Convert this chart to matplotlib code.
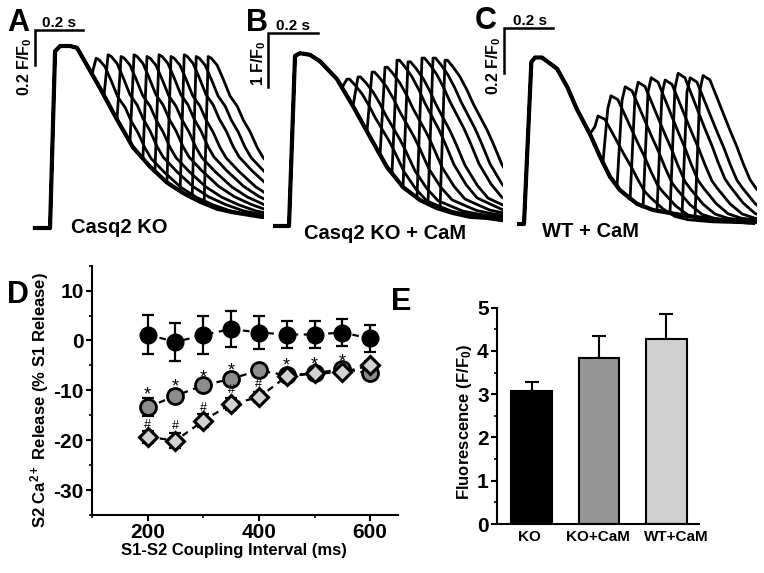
import matplotlib
matplotlib.use("Agg")
import matplotlib.pyplot as plt
from matplotlib.ticker import MultipleLocator

plt.rcParams['font.family'] = ['Liberation Sans', 'DejaVu Sans']
plt.rcParams['font.weight'] = 'bold'
plt.rcParams['axes.unicode_minus'] = False
plt.rcParams['mathtext.fontset'] = 'custom'
plt.rcParams['mathtext.rm'] = 'Liberation Sans:bold'
plt.rcParams['mathtext.bf'] = 'Liberation Sans:bold'
plt.rcParams['mathtext.it'] = 'Liberation Sans:bold:italic'

# ---- top row: Ca transients, time in ms from the S1 upstroke, amplitude in F/F0 above baseline
# A  Casq2 KO
a_s1_t = [-67, -4, 17, 38, 79, 108, 150, 204, 275, 342, 413, 483, 550, 621, 692, 758, 871, 900]
a_s1_f = [0, 0, 1.01, 1.04, 1.04, 1.03, 0.93, 0.80, 0.62, 0.46, 0.35, 0.26, 0.20, 0.15, 0.11, 0.09, 0.065, 0.06]
a_s2_onset = [171, 221, 275, 329, 383, 433, 483, 538, 588, 638]
a_s2_start = [0.88, 0.76, 0.62, 0.49, 0.40, 0.32, 0.26, 0.21, 0.17, 0.14]
a_s2_peak = [0.97, 0.99, 0.98, 0.99, 0.98, 0.99, 0.98, 0.99, 0.98, 0.98]
a_shape_t = [17, 30, 54, 79, 108, 138, 163, 192, 221, 246, 300, 370, 436, 507, 578, 645, 757]
a_shape_f = [1.0, 0.99, 0.95, 0.87, 0.77, 0.71, 0.63, 0.56, 0.47, 0.41, 0.33, 0.24, 0.18, 0.135, 0.10, 0.08, 0.06]

# B  Casq2 KO + CaM
b_s1_t = [-60, -4, 20, 40, 80, 120, 188, 252, 320, 388, 452, 520, 588, 652, 720, 788, 848]
b_s1_f = [0, 0, 3.15, 3.2, 3.17, 3.05, 2.72, 2.22, 1.65, 1.09, 0.72, 0.48, 0.33, 0.24, 0.17, 0.15, 0.11]
b_s2_onset = [208, 252, 308, 360, 408, 452, 508, 552, 600]
b_s2_start = [2.56, 2.22, 1.75, 1.30, 0.98, 0.72, 0.52, 0.42, 0.32]
b_s2_peak = [2.72, 2.76, 2.85, 2.94, 3.07, 3.04, 3.11, 3.11, 3.07]
b_shape_t = [20, 30, 52, 80, 108, 132, 160, 188, 212, 248, 296, 340, 396, 440, 500, 600, 700]
b_shape_f = [1.0, 1.0, 0.96, 0.90, 0.82, 0.74, 0.66, 0.58, 0.50, 0.37, 0.25, 0.17, 0.13, 0.10, 0.08, 0.06, 0.05]

# C  WT + CaM
c_s1_t = [-20, 0, 30, 45, 73, 98, 135, 176, 216, 269, 310, 351, 392, 461, 527, 596, 665, 731, 800, 935]
c_s1_f = [0, 0, 0.72, 0.74, 0.74, 0.72, 0.69, 0.61, 0.51, 0.40, 0.30, 0.21, 0.15, 0.09, 0.062, 0.049, 0.036, 0.027, 0.018, 0.005]
c_s2_onset = [269, 322, 380, 433, 486, 543, 596, 645, 698]
c_s2_start = [0.40, 0.27, 0.17, 0.11, 0.075, 0.06, 0.049, 0.04, 0.032]
c_s2_peak = [0.48, 0.57, 0.61, 0.63, 0.65, 0.64, 0.67, 0.65, 0.66]
c_shape_t = [20, 33, 61, 90, 114, 143, 171, 196, 224, 245, 298, 347, 400, 500, 650]
c_shape_f = [0.9, 1.0, 0.97, 0.85, 0.75, 0.63, 0.52, 0.41, 0.30, 0.25, 0.14, 0.07, 0.04, 0.02, 0.01]

# ---- D: S2 release vs coupling interval
intervals = [200, 250, 300, 350, 400, 450, 500, 550, 600]
ko = [1.2, -0.3, 1.1, 2.3, 1.6, 1.2, 1.2, 1.6, 0.4]
ko_err = [4.0, 3.9, 3.8, 3.6, 3.3, 2.7, 2.8, 2.8, 2.8]
ko_cam = [-13.4, -11.1, -9.0, -7.7, -6.0, -7.0, -6.6, -5.7, -6.6]
ko_cam_err = [1.8, 1.2, 0.6, 1.0, 0.6, 0.8, 0.7, 0.8, 0.9]
wt_cam = [-19.3, -20.1, -16.1, -12.7, -11.4, -7.2, -6.6, -6.4, -5.0]
wt_cam_err = [1.2, 1.5, 1.3, 1.2, 1.0, 0.7, 0.6, 0.6, 0.8]
star_x = [200, 250, 300, 350, 450, 500, 550]
star_y = [-9.7, -8.05, -6.4, -5.0, -3.9, -3.7, -3.2]
hash_x = [200, 250, 300, 350, 400]
hash_y = [-16.6, -16.9, -13.2, -9.7, -8.4]

# ---- E: peak fluorescence
groups = ['KO', 'KO+CaM', 'WT+CaM']
fluo = [3.07, 3.84, 4.28]
fluo_err = [0.21, 0.51, 0.58]
bar_colors = ['black', '#959595', '#d0d0d0']

W, H = 764, 573
fig = plt.figure(figsize=(W / 100, H / 100), dpi=100)


def fx(x):
    return x / W


def fy(y):
    return 1 - y / H


def trace_axes(x0, x1, y0, y1, org_x, px_ms, base_y, px_f):
    ax = fig.add_axes([fx(x0), fy(y1), (x1 - x0) / W, (y1 - y0) / H])
    ax.set_xlim((x0 - org_x) / px_ms, (x1 - org_x) / px_ms)
    ax.set_ylim((base_y - y1) / px_f, (base_y - y0) / px_f)
    ax.axis('off')
    return ax


def draw_traces(ax, s1_t, s1_f, onsets, starts, peaks, shape_t, shape_f):
    ax.plot(s1_t, s1_f, color='k', lw=3.0, solid_joinstyle='round')
    for on, st, pk in zip(onsets, starts, peaks):
        pre = [(t, f) for t, f in zip(s1_t, s1_f) if t < on]
        tt = [p[0] for p in pre] + [on] + [on + s for s in shape_t]
        ff = [p[1] for p in pre] + [st] + [pk * s for s in shape_f]
        ax.plot(tt, ff, color='k', lw=2.0, solid_joinstyle='round')


def scale_bar(ax, t0, f0, dt, df):
    ax.plot([t0, t0, t0 + dt], [f0 - df, f0, f0], color='k', lw=1.8,
            clip_on=False, solid_joinstyle='miter')


axa = trace_axes(30, 264, 5, 245, 51, 0.24, 228, 175)
draw_traces(axa, a_s1_t, a_s1_f, a_s2_onset, a_s2_start, a_s2_peak, a_shape_t, a_shape_f)
scale_bar(axa, (35 - 51) / 0.24, (228 - 30) / 175, 200, 0.2)

axb = trace_axes(250, 503, 5, 245, 290, 0.25, 226, 54)
draw_traces(axb, b_s1_t, b_s1_f, b_s2_onset, b_s2_start, b_s2_peak, b_shape_t, b_shape_f)
scale_bar(axb, (268 - 290) / 0.25, (226 - 33) / 54, 200, 1)

axc = trace_axes(490, 757, 5, 245, 524, 0.245, 224, 225)
draw_traces(axc, c_s1_t, c_s1_f, c_s2_onset, c_s2_start, c_s2_peak, c_shape_t, c_shape_f)
scale_bar(axc, (504 - 524) / 0.245, (224 - 28) / 225, 200, 0.2)

# panel letters and scale bar labels
for s, x, y in [('A', 18, 31), ('B', 257, 31), ('C', 486, 29), ('D', 18, 303), ('E', 401, 310)]:
    fig.text(fx(x), fy(y), s, fontsize=22, ha='center', va='baseline')
for x, y in [(59, 27), (293, 30), (530, 25)]:
    fig.text(fx(x), fy(y), '0.2 s', fontsize=11, ha='center', va='baseline')
for s, x, y in [(r'0.2 F/F$_\mathrm{0}$', 25, 67), (r'1 F/F$_\mathrm{0}$', 259, 63),
                (r'0.2 F/F$_\mathrm{0}$', 494, 66)]:
    fig.text(fx(x), fy(y), s, fontsize=11.5, rotation=90, ha='center', va='center')
for s, x, y in [('Casq2 KO', 119, 233), ('Casq2 KO + CaM', 385, 239), ('WT + CaM', 591, 237)]:
    fig.text(fx(x), fy(y), s, fontsize=14.5, ha='center', va='baseline')

# ---- panel D
axd = fig.add_axes([fx(92), fy(515), 306 / W, 249.3 / H])
axd.set_xlim(100, 650)
axd.set_ylim(-35, 15)
for sp in ['top', 'right']:
    axd.spines[sp].set_visible(False)
for sp in ['left', 'bottom']:
    axd.spines[sp].set_linewidth(1.5)
axd.xaxis.set_major_locator(MultipleLocator(200))
axd.xaxis.set_minor_locator(MultipleLocator(100))
axd.yaxis.set_major_locator(MultipleLocator(10))
axd.yaxis.set_minor_locator(MultipleLocator(5))
axd.tick_params(which='major', direction='out', length=4, width=1.5, labelsize=15, pad=2)
axd.tick_params(which='minor', direction='out', length=2.5, width=1.2)

dash = (0, (3, 2.5))
for vals in [ko, ko_cam, wt_cam]:
    axd.plot(intervals, vals, ls=dash, color='k', lw=1.6, zorder=1)
for vals, errs in [(ko, ko_err), (ko_cam, ko_cam_err), (wt_cam, wt_cam_err)]:
    axd.errorbar(intervals, vals, yerr=errs, fmt='none', ecolor='k', elinewidth=1.6,
                 capsize=4.5, capthick=1.6, zorder=2)
axd.plot(intervals, ko, 'o', ms=12, mfc='k', mec='k', mew=1, ls='none', zorder=3)
axd.plot(intervals, ko_cam, 'o', ms=11.5, mfc='#8c8c8c', mec='k', mew=2, ls='none', zorder=3)
axd.plot(intervals, wt_cam, 'D', ms=9.5, mfc='#d2d2d2', mec='k', mew=2.2, ls='none', zorder=4)
for x, y in zip(star_x, star_y):
    axd.annotate('*', (x, y), xytext=(0, -7.5), textcoords='offset points', ha='center',
                 va='baseline', fontsize=13, fontweight='normal')
for x, y in zip(hash_x, hash_y):
    axd.annotate('#', (x, y), xytext=(0, -3.2), textcoords='offset points', ha='center',
                 va='baseline', fontsize=9, fontweight='normal')

fig.text(fx(40), fy(400), r'S2 Ca$^{\mathrm{2+}}$ Release (% S1 Release)', fontsize=12,
         rotation=90, ha='center', va='center')
fig.text(fx(234), fy(551), 'S1-S2 Coupling Interval (ms)', fontsize=12, ha='center', va='center')

# ---- panel E
axe = fig.add_axes([fx(497), fy(524), 202 / W, 216.3 / H])
pos = [1, 2, 3]
axe.errorbar(pos, fluo, yerr=[[0, 0, 0], fluo_err], fmt='none', ecolor='k', elinewidth=1.5,
             capsize=5, capthick=1.5, zorder=1)
axe.bar(pos, fluo, width=0.61, color=bar_colors, edgecolor='k', linewidth=1.5, zorder=2)
axe.set_xlim(0.48, 3.49)
axe.set_ylim(0, 5)
for sp in ['top', 'right']:
    axe.spines[sp].set_visible(False)
for sp in ['left', 'bottom']:
    axe.spines[sp].set_linewidth(1.5)
# category labels sit slightly off the bar centres in the original
axe.set_xticks([0.97, 1.98, 3.15])
axe.set_xticklabels(groups)
axe.yaxis.set_major_locator(MultipleLocator(1))
axe.yaxis.set_minor_locator(MultipleLocator(0.5))
axe.tick_params(axis='y', which='major', direction='out', length=4, width=1.5, labelsize=15, pad=2)
axe.tick_params(axis='y', which='minor', direction='out', length=2.5, width=1.2)
axe.tick_params(axis='x', length=0, labelsize=11, pad=4)
fig.text(fx(464), fy(422), r'Fluorescence (F/F$_\mathrm{0}$)', fontsize=12, rotation=90,
         ha='center', va='center')

fig.savefig('out.png', dpi=100)
